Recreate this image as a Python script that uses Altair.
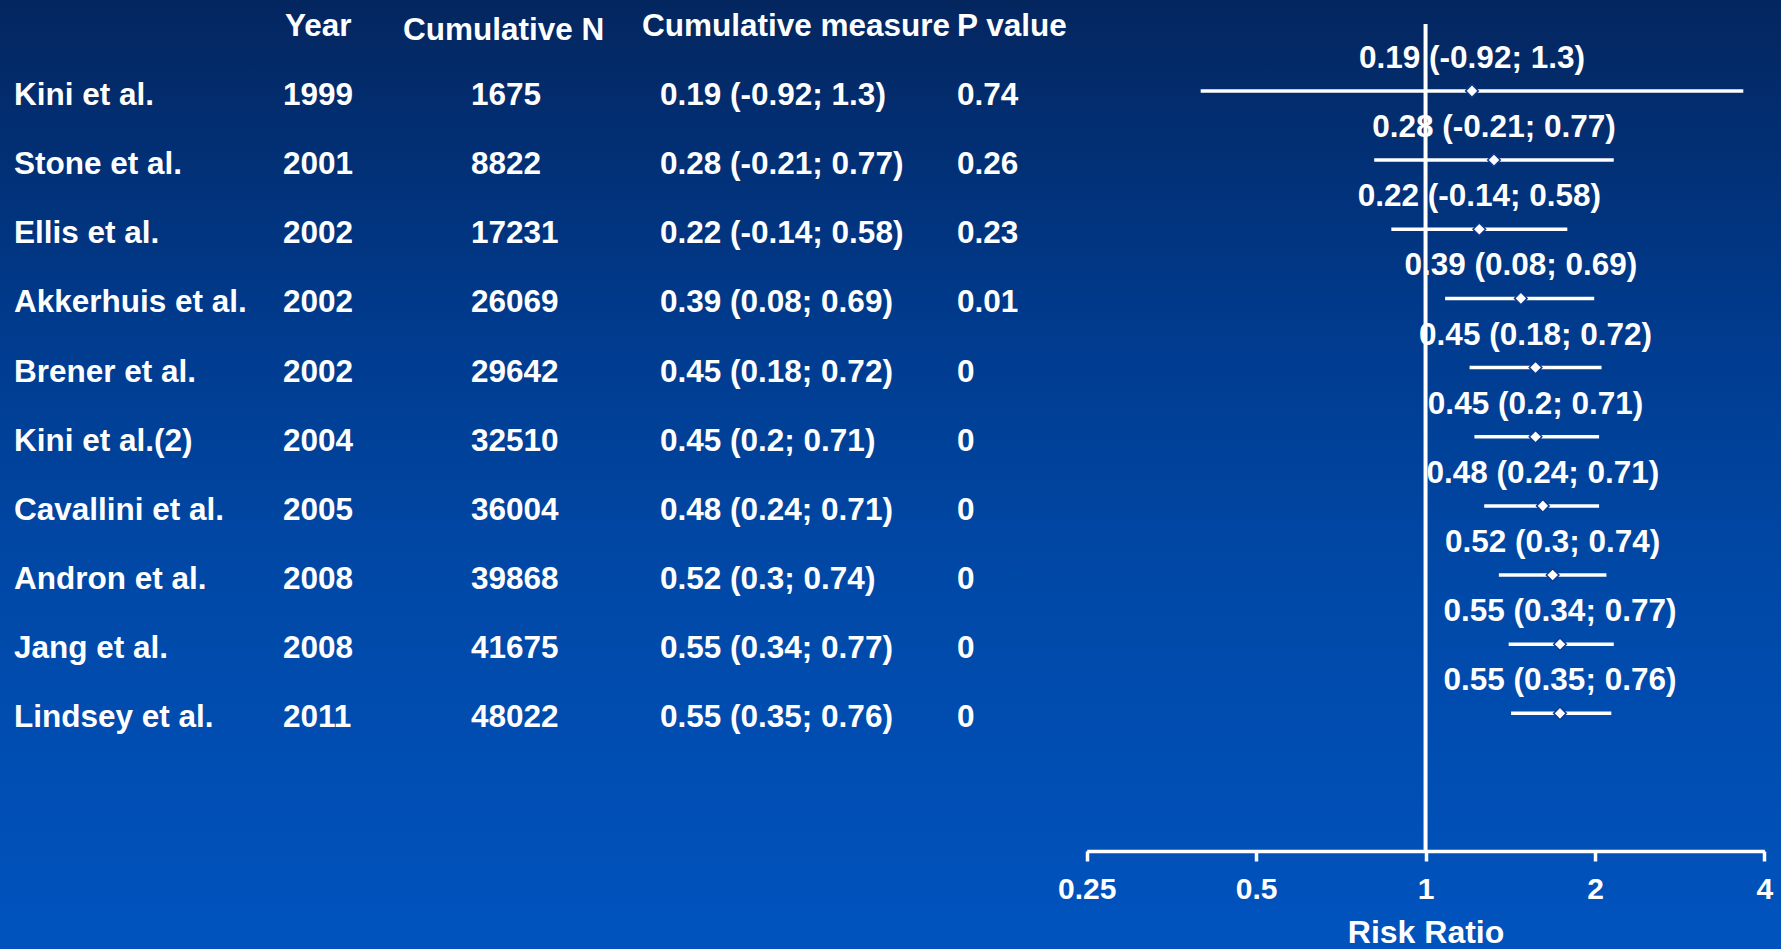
import altair as alt
import numpy as np
import pandas as pd

# Cumulative meta-analysis table (log risk ratio with 95% CI)
study = ["Kini et al.", "Stone et al.", "Ellis et al.", "Akkerhuis et al.", "Brener et al.",
         "Kini et al.(2)", "Cavallini et al.", "Andron et al.", "Jang et al.", "Lindsey et al."]
year = [1999, 2001, 2002, 2002, 2002, 2004, 2005, 2008, 2008, 2011]
cumulative_n = [1675, 8822, 17231, 26069, 29642, 32510, 36004, 39868, 41675, 48022]
log_rr = [0.19, 0.28, 0.22, 0.39, 0.45, 0.45, 0.48, 0.52, 0.55, 0.55]
log_lo = [-0.92, -0.21, -0.14, 0.08, 0.18, 0.2, 0.24, 0.3, 0.34, 0.35]
log_hi = [1.3, 0.77, 0.58, 0.69, 0.72, 0.71, 0.71, 0.74, 0.77, 0.76]
p_value = [0.74, 0.26, 0.23, 0.01, 0, 0, 0, 0, 0, 0]

headers = ["Year", "Cumulative N", "Cumulative measure", "P value"]
axis_ticks = [0.25, 0.5, 1, 2, 4]

W, H, BOTTOM = 1781, 851, 98
FONT = "Liberation Sans"
WHITE = "#ffffff"

df = pd.DataFrame({
    "row": list(range(len(study))),
    "study": study,
    "year": [str(v) for v in year],
    "cum_n": [str(v) for v in cumulative_n],
    "p": [f"{v:g}" for v in p_value],
    "measure": [f"{e:g} ({l:g}; {h:g})" for e, l, h in zip(log_rr, log_lo, log_hi)],
})
df["rr"] = np.exp(log_rr)
df["rr_lo"] = np.exp(log_lo)
df["rr_hi"] = np.exp(log_hi)

ys = alt.Scale(domain=[-1.3143, 10.99], range=[0, H], nice=False, zero=False)
xs = alt.Scale(type="log", base=2, domain=[0.25, 4], range=[1086.7, 1764.4], nice=False)
xaxis = alt.Axis(
    values=axis_ticks, format="~g", title="Risk Ratio", grid=False, zindex=5,
    domainColor=WHITE, domainWidth=3.5, tickColor=WHITE, tickWidth=3.5, tickSize=10,
    labelColor=WHITE, labelFont=FONT, labelFontWeight="bold", labelFontSize=30,
    labelPadding=13, labelFlush=False, labelOverlap=False,
    titleColor=WHITE, titleFont=FONT, titleFontWeight="bold", titleFontSize=32,
    titleBaseline="top", titleY=66,
)

# gradient backdrop
backdrop = alt.Chart(pd.DataFrame({"k": [0]})).mark_rect(
    color=alt.Gradient(
        gradient="linear", x1=0, x2=0, y1=0, y2=1,
        stops=[alt.GradientStop(color="#04265f", offset=0),
               alt.GradientStop(color="#003b8e", offset=0.35),
               alt.GradientStop(color="#0048a6", offset=0.6),
               alt.GradientStop(color="#0053be", offset=1)],
    )
).encode(x=alt.value(0), x2=alt.value(W), y=alt.value(0), y2=alt.value(H + BOTTOM))

text_style = dict(font=FONT, fontWeight="bold", fontSize=31.5, color=WHITE, baseline="middle")


def column(field, x, align="left"):
    return alt.Chart(df).mark_text(align=align, dy=5, **text_style).encode(
        x=alt.value(x), y=alt.Y("row:Q", scale=ys, axis=None), text=f"{field}:N")


def header(label, x, dy):
    return alt.Chart(pd.DataFrame({"h": [label]})).mark_text(align="left", dy=dy, **text_style).encode(
        x=alt.value(x), y=alt.YDatum(-1, scale=ys, axis=None), text="h:N")


table = [
    column("study", 14),
    column("year", 283),
    column("cum_n", 471),
    column("measure", 660),
    column("p", 957),
    header(headers[0], 285, 5),
    header(headers[1], 403, 9.5),
    header(headers[2], 642, 5),
    header(headers[3], 957, 5),
]

ref_line = alt.Chart(pd.DataFrame({"k": [0]})).mark_rule(color=WHITE, strokeWidth=4).encode(
    x=alt.XDatum(1, scale=xs, axis=xaxis),
    y=alt.YDatum(-0.967, scale=ys, axis=None),
    y2=alt.Y2Datum(10.99),
)

whiskers = alt.Chart(df).mark_rule(color=WHITE, strokeWidth=3.5).encode(
    x=alt.X("rr_lo:Q", scale=xs, axis=xaxis),
    x2="rr_hi:Q",
    y=alt.Y("row:Q", scale=ys, axis=None),
)

points = alt.Chart(df).mark_point(
    shape="diamond", filled=True, fill=WHITE, stroke="#0d3a8e", strokeWidth=1.5,
    size=160, opacity=1,
).encode(
    x=alt.X("rr:Q", scale=xs, axis=xaxis),
    y=alt.Y("row:Q", scale=ys, axis=None),
)

labels = alt.Chart(df).mark_text(align="center", dy=-32, **text_style).encode(
    x=alt.X("rr:Q", scale=xs, axis=xaxis),
    y=alt.Y("row:Q", scale=ys, axis=None),
    text="measure:N",
)

chart = alt.layer(backdrop, *table, ref_line, whiskers, points, labels).properties(
    width=W, height=H,
    padding={"left": 0, "top": 0, "right": 0, "bottom": BOTTOM},
    autosize=alt.AutoSizeParams(type="none"),
    background="#0053be",
).configure_view(strokeWidth=0)

chart.save("out.html", embed_options={"renderer": "svg", "actions": False})
